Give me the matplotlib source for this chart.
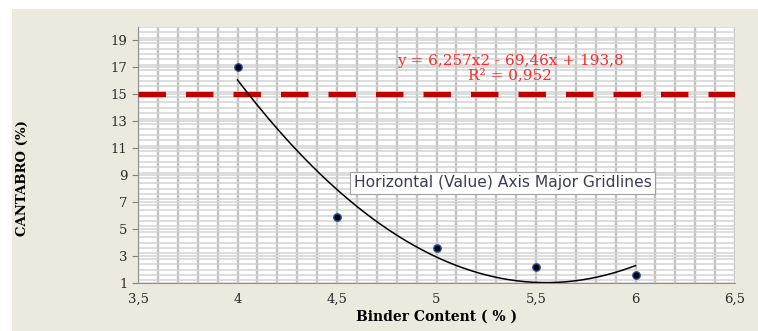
import matplotlib.pyplot as plt
import numpy as np
from matplotlib.patches import Rectangle
from matplotlib.ticker import MultipleLocator, FuncFormatter

# data
binder = [4.0, 4.5, 5.0, 5.5, 6.0]
cantabro = [17.0, 5.9, 3.6, 2.2, 1.6]
trend_coef = [6.257, -69.46, 193.8]   # y = 6,257x2 - 69,46x + 193,8
limit = 15
x_ticks = [3.5, 4, 4.5, 5, 5.5, 6, 6.5]
y_ticks = [1, 3, 5, 7, 9, 11, 13, 15, 17, 19]

fig = plt.figure(figsize=(7.58, 3.31), dpi=100)
fig.patch.set_facecolor('white')
# beige chart area
fig.patches.append(Rectangle((12 / 758, 0), 1 - 12 / 758, 1 - 9 / 331,
                             transform=fig.transFigure, facecolor='#ECE9DF',
                             edgecolor='none', zorder=-5))

ax = fig.add_axes([138 / 758, 1 - 283 / 331, (735 - 138) / 758, (283 - 27) / 331])
ax.set_facecolor('white')
ax.set_xlim(3.5, 6.5)
ax.set_ylim(1, 20)

ax.xaxis.set_minor_locator(MultipleLocator(0.1))
ax.yaxis.set_minor_locator(MultipleLocator(0.4))
ax.set_xticks(x_ticks)
ax.set_yticks(y_ticks)
ax.grid(which='both', axis='x', color='#C2C2C2', lw=1.7)
ax.grid(which='both', axis='y', color='#D3D3D3', lw=1.1)
ax.set_axisbelow(True)

comma = FuncFormatter(lambda v, p: f"{v:g}".replace('.', ','))
ax.xaxis.set_major_formatter(comma)
ax.tick_params(which='minor', length=0)
ax.tick_params(which='major', length=4, color='#808080', labelsize=9.5,
               labelcolor='#2A2A2A')
ax.tick_params(axis='x', length=0, pad=7)
for lab in ax.get_xticklabels() + ax.get_yticklabels():
    lab.set_family('DejaVu Serif')

for side in ['top', 'right']:
    ax.spines[side].set_visible(False)
ax.spines['left'].set_color('#909090')
ax.spines['bottom'].set_color('#909090')

# limit line
ax.axhline(limit, color='#C00000', lw=3.8, dashes=(5.2, 3.8), zorder=3)

# trendline
xs = np.linspace(min(binder), max(binder), 200)
ax.plot(xs, np.polyval(trend_coef, xs), color='black', lw=1.1, zorder=4)

# points
ax.scatter(binder, cantabro, s=28, color='black', edgecolors='#1F4E9A',
           linewidths=1.0, zorder=5)

ax.text(5.37, 16.95, "y = 6,257x2 - 69,46x + 193,8\nR² = 0,952", ha='center',
        va='center', color='#FF2A2A', fontsize=11, family='DejaVu Serif',
        linespacing=0.95)

ax.text(4.585, 8.45, "Horizontal (Value) Axis Major Gridlines", ha='left',
        va='center', color='#3C3C5A', fontsize=11.2, family='DejaVu Sans',
        bbox=dict(boxstyle='square,pad=0.22', facecolor='white',
                  edgecolor='#A0A0A0', lw=0.8), zorder=6)

ax.set_xlabel("Binder Content ( % )", fontsize=10, fontweight='bold',
              family='DejaVu Serif', labelpad=3)
fig.text(22 / 758, 1 - 178 / 331, "CANTABRO (%)", rotation=90, ha='center',
         va='center', fontsize=9.5, fontweight='bold', family='DejaVu Serif')

fig.savefig('out.png', dpi=100)
